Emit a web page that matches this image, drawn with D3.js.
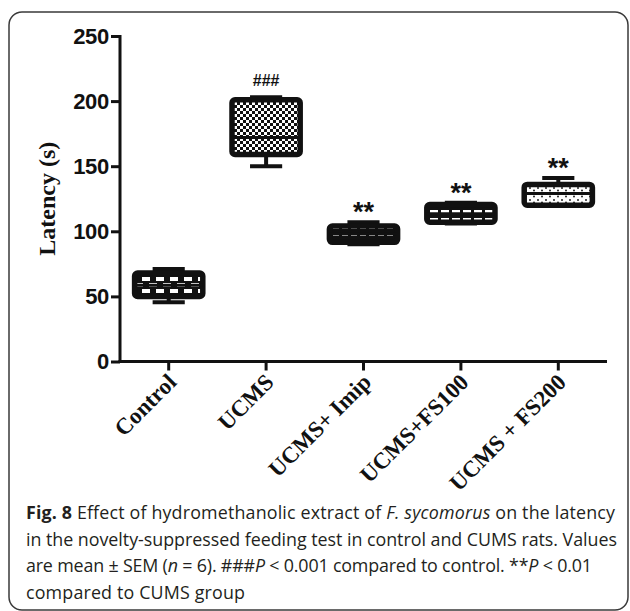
<!DOCTYPE html>
<html><head><meta charset="utf-8">
<script src="https://cdn.jsdelivr.net/npm/d3@7"></script>
<style>html,body{margin:0;padding:0;background:#fff;}svg{display:block;}</style>
</head><body>
<script>
const categories = ["Control","UCMS","UCMS+ Imip","UCMS+FS100","UCMS + FS200"];
const whiskerMin = [45.5,150,90,106,120];
const q1 = [50,159,91.5,107,120];
const median = [58.5,172,98,113.5,129];
const q3 = [68,201,104,120.5,136];
const whiskerMax = [71,203,107,122,141];
const annotations = ["","###","**","**","**"];
const yTicks = [0,50,100,150,200,250];
const patterns = ["pCtrl","pUcms","pImip","pFs100","pFs200"];

(function(){
const W=630,H=611;
const svg=d3.select("body").append("svg").attr("width",W).attr("height",H);
const defs=svg.append("defs");
function pat(id,w,h,bg,draw){const p=defs.append("pattern").attr("id",id).attr("patternUnits","userSpaceOnUse").attr("width",w).attr("height",h);p.append("rect").attr("width",w).attr("height",h).attr("fill",bg);draw(p);}
pat("pCtrl",14,12,"#111",p=>{p.append("rect").attr("x",2).attr("y",1).attr("width",8).attr("height",4).attr("fill","#fff");p.append("rect").attr("x",9).attr("y",7).attr("width",8).attr("height",4).attr("fill","#fff");p.append("rect").attr("x",-5).attr("y",7).attr("width",8).attr("height",4).attr("fill","#fff");});
pat("pUcms",6,6,"#111",p=>{p.append("rect").attr("x",0).attr("y",0).attr("width",3).attr("height",3).attr("fill","#fff");p.append("rect").attr("x",3).attr("y",3).attr("width",3).attr("height",3).attr("fill","#fff");});
pat("pImip",9,7,"#111",p=>{p.append("rect").attr("x",0).attr("y",3).attr("width",6).attr("height",2).attr("fill","#fff");});
pat("pFs100",11,8,"#111",p=>{p.append("rect").attr("x",1).attr("y",2).attr("width",8).attr("height",5).attr("fill","#fff");});
pat("pFs200",8,6,"#fff",p=>{p.append("circle").attr("cx",2).attr("cy",2).attr("r",1).attr("fill","#222");p.append("circle").attr("cx",6).attr("cy",4.5).attr("r",1).attr("fill","#222");});

svg.append("rect").attr("x",9).attr("y",12).attr("width",619).attr("height",598).attr("rx",13).attr("fill","none").attr("stroke","#3a3a3a").attr("stroke-width",1.5);

const xL=120,xR=607,yT=36,yB=361.5;
const x=d3.scaleBand().domain(categories).range([xL,xR]);
const y=d3.scaleLinear().domain([0,250]).range([yB,yT]);

const yAxis=svg.append("g").attr("transform",`translate(${xL},0)`).call(d3.axisLeft(y).tickValues(yTicks).tickSize(9).tickPadding(2));
yAxis.select(".domain").attr("stroke","#111").attr("stroke-width",3).attr("d",`M0,${yB+1.5}V${yT-1}`);
yAxis.selectAll(".tick line").attr("stroke","#111").attr("stroke-width",3);
yAxis.selectAll(".tick text").attr("font-family","Liberation Sans, Arial, sans-serif").attr("font-weight","bold").attr("font-size",22).attr("fill","#111").attr("letter-spacing",-0.3);

const xAxis=svg.append("g").attr("transform",`translate(0,${yB})`).call(d3.axisBottom(x).tickSize(9).tickSizeOuter(0));
xAxis.select(".domain").attr("stroke","#111").attr("stroke-width",3).attr("d",`M${xL-1.5},0H${xR}`);
xAxis.selectAll(".tick line").attr("stroke","#111").attr("stroke-width",3);
xAxis.selectAll(".tick text").attr("font-family","Liberation Serif, Times New Roman, serif").attr("font-weight","bold").attr("font-size",23).attr("fill","#111")
  .attr("text-anchor","end").attr("dy",null).attr("y",0).attr("transform","translate(9,22) rotate(-45)");

svg.append("text").attr("transform",`translate(55,${(yT+yB)/2}) rotate(-90)`).attr("text-anchor","middle")
  .attr("font-family","Liberation Serif, Times New Roman, serif").attr("font-weight","bold").attr("font-size",24).attr("fill","#111").text("Latency (s)");

const bw=x.bandwidth()*0.70, cw=x.bandwidth()*0.33;
const g=svg.append("g");
categories.forEach((c,i)=>{
  const cx=x(c)+x.bandwidth()/2;
  g.append("line").attr("x1",cx).attr("x2",cx).attr("y1",y(whiskerMax[i])).attr("y2",y(whiskerMin[i])).attr("stroke","#111").attr("stroke-width",4);
  g.append("line").attr("x1",cx-cw/2).attr("x2",cx+cw/2).attr("y1",y(whiskerMax[i])).attr("y2",y(whiskerMax[i])).attr("stroke","#111").attr("stroke-width",4);
  g.append("line").attr("x1",cx-cw/2).attr("x2",cx+cw/2).attr("y1",y(whiskerMin[i])).attr("y2",y(whiskerMin[i])).attr("stroke","#111").attr("stroke-width",4);
  g.append("rect").attr("x",cx-bw/2).attr("y",y(q3[i])).attr("width",bw).attr("height",y(q1[i])-y(q3[i])).attr("rx",3)
    .attr("fill",`url(#${patterns[i]})`).attr("stroke","#111").attr("stroke-width",5.5);
  g.append("line").attr("x1",cx-bw/2).attr("x2",cx+bw/2).attr("y1",y(median[i])).attr("y2",y(median[i])).attr("stroke","#111").attr("stroke-width",3);
  if(annotations[i]){
    const isHash=annotations[i].startsWith("#");
    g.append("text").attr("x",cx).attr("y",y(whiskerMax[i])-(isHash?11:1)).attr("text-anchor","middle")
     .attr("font-family","Liberation Sans, Arial, sans-serif").attr("font-weight","bold").attr("font-size",isHash?16:27).attr("fill","#111")
     .text(annotations[i]);
  }
});

const lines=[
 [["Fig. 8","b"],[" Effect of hydromethanolic extract of ",""],["F. sycomorus","i"],[" on the latency",""]],
 [["in the novelty-suppressed feeding test in control and CUMS rats. Values",""]],
 [["are mean ± SEM (",""],["n","i"],[" = 6). ###",""],["P","i"],[" < 0.001 compared to control. **",""],["P","i"],[" < 0.01",""]],
 [["compared to CUMS group",""]]
];
const lineY=[519,546,572,599];
const lineW=[589,591,566,219];
const tl=[];
lines.forEach((ln,li)=>{
  const sub=svg.append("text").attr("font-family","Open Sans, Noto Sans, sans-serif").attr("fill","#231f20").attr("font-size",18).attr("x",26).attr("y",lineY[li]);
  ln.forEach(([s,st])=>{
    const sp=sub.append("tspan").text(s);
    if(st==="b") sp.attr("font-weight","bold");
    if(st==="i") sp.attr("font-style","italic");
  });
  tl.push(sub);
});
const tot=d3.sum(tl,t=>t.node().getComputedTextLength());
const fs=18*d3.sum(lineW)/tot;
tl.forEach((t,i)=>t.attr("font-size",fs).attr("textLength",lineW[i]).attr("lengthAdjust","spacing"));
})();
</script>
</body></html>
